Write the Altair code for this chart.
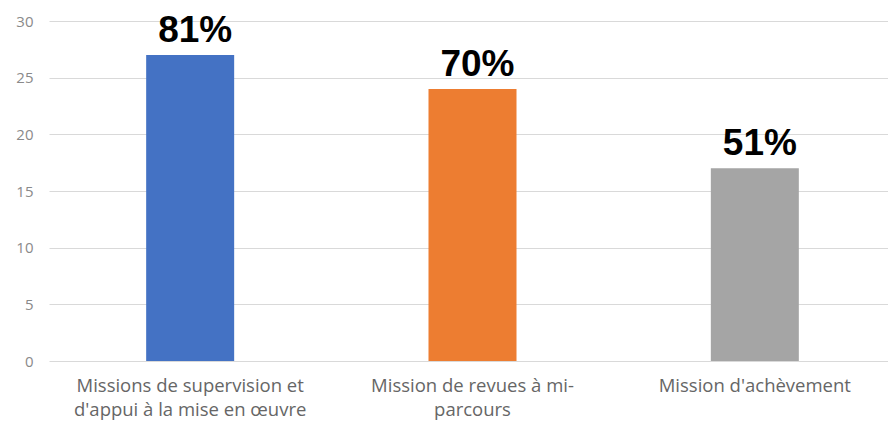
import altair as alt
import pandas as pd

categories = [
    "Missions de supervision et|d'appui à la mise en œuvre",
    "Mission de revues à mi-|parcours",
    "Mission d'achèvement",
]
values = [27, 24, 17]
percents = ["81%", "70%", "51%"]
colors = ["#4472C4", "#ED7D31", "#A5A5A5"]

df = pd.DataFrame({"cat": categories, "val": values, "pct": percents})

x = alt.X(
    "cat:N",
    sort=None,
    title=None,
    scale=alt.Scale(paddingInner=0, paddingOuter=0, range=[0, 847]),
    axis=alt.Axis(
        labelAngle=0,
        labelExpr="split(datum.label, '|')",
        labelFont="Open Sans",
        labelFontSize=18.5,
        labelLineHeight=24,
        labelColor="#666666",
        labelPadding=15,
        labelBaseline="top",
        domain=False,
        ticks=False,
        labelLimit=400,
    ),
)

y = alt.Y(
    "val:Q",
    title=None,
    scale=alt.Scale(domain=[0, 30]),
    axis=alt.Axis(
        values=[0, 5, 10, 15, 20, 25, 30],
        labelFont="Open Sans",
        labelFontSize=15,
        labelColor="#8a8a8a",
        labelPadding=16,
        domain=False,
        ticks=False,
        gridColor="#d9d9d9",
        gridWidth=1.2,
    ),
)

bars = alt.Chart(df).mark_bar(size=88).encode(
    x=x,
    y=y,
    color=alt.Color("cat:N", sort=None, scale=alt.Scale(domain=categories, range=colors), legend=None),
)

labels = alt.Chart(df).mark_text(
    font="Liberation Sans",
    fontWeight="bold",
    fontSize=37,
    color="#000000",
    baseline="alphabetic",
    align="center",
    dy=-13,
    dx=5,
).encode(x=x, y=y, text="pct:N")

chart = (
    alt.layer(bars, labels)
    .properties(
        width=839,
        height=340,
        padding={"left": 41, "top": 13, "right": 0, "bottom": 61},
        autosize=alt.AutoSizeParams(type="none"),
        background="white",
    )
    .configure_view(stroke=None)
)

chart.save("out.html", embed_options={"renderer": "svg", "actions": False})
